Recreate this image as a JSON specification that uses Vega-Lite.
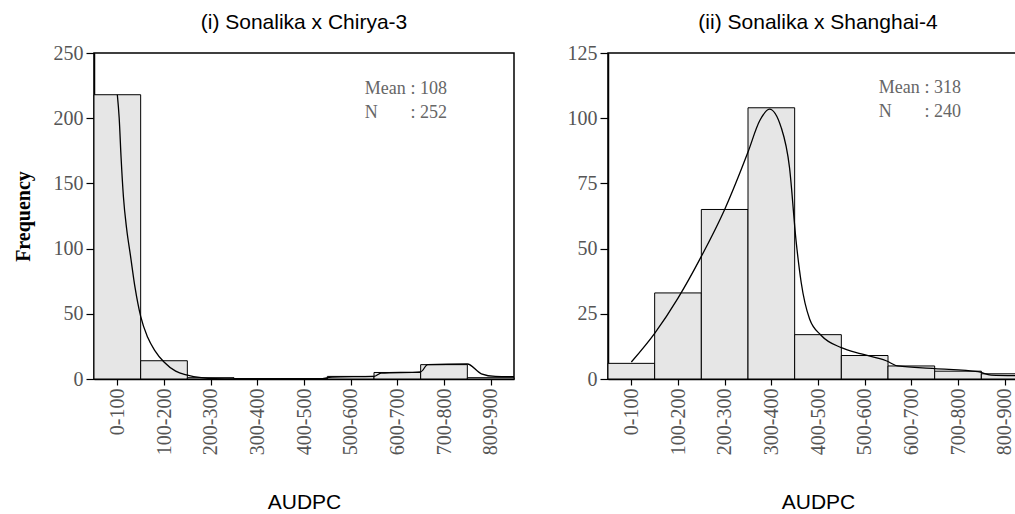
{
  "$schema": "https://vega.github.io/schema/vega-lite/v6.json",
  "background": "white",
  "padding": {"left": 12, "top": 11, "right": 0, "bottom": 0},
  "spacing": 48,
  "config": {
    "view": {"stroke": "#000", "strokeWidth": 1.5},
    "axis": {
      "grid": false,
      "domainColor": "#000",
      "domainWidth": 1.5,
      "tickColor": "#000",
      "tickWidth": 1.2,
      "labelFont": "Liberation Serif",
      "labelFontSize": 20,
      "labelColor": "#555",
      "titleFont": "Liberation Sans",
      "titleFontWeight": "normal",
      "titleFontSize": 21,
      "titleColor": "#000"
    },
    "title": {"font": "Liberation Sans", "fontSize": 21, "fontWeight": "normal", "color": "#000", "offset": 10}
  },
  "datasets": {
    "bins1": [
      {"bin": "0-100", "start": 0, "end": 100, "count": 218},
      {"bin": "100-200", "start": 100, "end": 200, "count": 14},
      {"bin": "200-300", "start": 200, "end": 300, "count": 1},
      {"bin": "300-400", "start": 300, "end": 400, "count": 0},
      {"bin": "400-500", "start": 400, "end": 500, "count": 0},
      {"bin": "500-600", "start": 500, "end": 600, "count": 2},
      {"bin": "600-700", "start": 600, "end": 700, "count": 5},
      {"bin": "700-800", "start": 700, "end": 800, "count": 11},
      {"bin": "800-900", "start": 800, "end": 900, "count": 1}
    ],
    "curve1": [
      {"x": 50, "y": 218}, {"x": 54, "y": 200}, {"x": 58, "y": 170}, {"x": 63, "y": 140},
      {"x": 70, "y": 115}, {"x": 78, "y": 95}, {"x": 88, "y": 70}, {"x": 100, "y": 48},
      {"x": 115, "y": 32}, {"x": 130, "y": 22}, {"x": 150, "y": 13}, {"x": 175, "y": 6},
      {"x": 200, "y": 3}, {"x": 230, "y": 1}, {"x": 260, "y": 0.2}, {"x": 300, "y": 0},
      {"x": 480, "y": 0}, {"x": 510, "y": 1.5}, {"x": 600, "y": 2}, {"x": 615, "y": 4.5},
      {"x": 700, "y": 5.5}, {"x": 715, "y": 11}, {"x": 800, "y": 11.5}, {"x": 830, "y": 4},
      {"x": 860, "y": 2}, {"x": 900, "y": 1.8}
    ],
    "stats1": [{"keys": "Mean\nN", "vals": ": 108\n: 252"}],
    "bins2": [
      {"bin": "0-100", "start": 0, "end": 100, "count": 6},
      {"bin": "100-200", "start": 100, "end": 200, "count": 33},
      {"bin": "200-300", "start": 200, "end": 300, "count": 65},
      {"bin": "300-400", "start": 300, "end": 400, "count": 104},
      {"bin": "400-500", "start": 400, "end": 500, "count": 17},
      {"bin": "500-600", "start": 500, "end": 600, "count": 9},
      {"bin": "600-700", "start": 600, "end": 700, "count": 5},
      {"bin": "700-800", "start": 700, "end": 800, "count": 3},
      {"bin": "800-900", "start": 800, "end": 900, "count": 2}
    ],
    "curve2": [
      {"x": 50, "y": 6.5}, {"x": 100, "y": 17.5}, {"x": 150, "y": 31}, {"x": 200, "y": 47},
      {"x": 250, "y": 65}, {"x": 300, "y": 87}, {"x": 325, "y": 99}, {"x": 346, "y": 103.5},
      {"x": 371, "y": 96.5}, {"x": 389, "y": 81}, {"x": 403, "y": 53}, {"x": 414, "y": 37},
      {"x": 432, "y": 23}, {"x": 457, "y": 16.7}, {"x": 500, "y": 12}, {"x": 543, "y": 9.6},
      {"x": 596, "y": 7}, {"x": 621, "y": 5}, {"x": 700, "y": 4}, {"x": 793, "y": 2.8},
      {"x": 821, "y": 1.5}, {"x": 900, "y": 1.2}
    ],
    "stats2": [{"keys": "Mean\nN", "vals": ": 318\n: 240"}]
  },
  "hconcat": [
    {
      "width": 420,
      "height": 326,
      "title": {"text": "(i) Sonalika x Chirya-3"},
      "layer": [
        {
          "data": {"name": "bins1"},
          "mark": {"type": "rect", "fill": "#e6e6e6", "stroke": "#000", "strokeWidth": 1},
          "encoding": {
            "x": {
              "field": "start", "type": "quantitative",
              "scale": {"domain": [0, 900], "nice": false, "zero": false},
              "axis": {
                "values": [50, 150, 250, 350, 450, 550, 650, 750, 850],
                "labelExpr": "floor(datum.value/100)*100 + '-' + (floor(datum.value/100)*100 + 100)",
                "labelAngle": -90, "tickSize": 6, "labelPadding": 3,
                "title": "AUDPC", "titleY": 123, "titleBaseline": "middle"
              }
            },
            "x2": {"field": "end"},
            "y": {
              "field": "count", "type": "quantitative",
              "scale": {"domain": [0, 250], "nice": false},
              "axis": {
                "values": [0, 50, 100, 150, 200, 250],
                "tickSize": 8, "labelPadding": 3,
                "title": "Frequency",
                "titleFont": "Liberation Serif", "titleFontWeight": "bold", "titleFontSize": 20,
                "titleAngle": -90, "titleX": -71, "titleY": 163,
                "titleBaseline": "middle", "titleAlign": "center"
              }
            }
          }
        },
        {
          "data": {"name": "curve1"},
          "mark": {"type": "line", "interpolate": "monotone", "color": "#000", "strokeWidth": 1.3},
          "encoding": {
            "x": {"field": "x", "type": "quantitative"},
            "y": {"field": "y", "type": "quantitative"}
          }
        },
        {
          "data": {"name": "stats1"},
          "mark": {"type": "text", "align": "left", "baseline": "alphabetic", "lineBreak": "\n", "lineHeight": 24, "font": "Liberation Serif", "fontSize": 18, "color": "#666"},
          "encoding": {
            "x": {"datum": 580, "type": "quantitative"},
            "y": {"datum": 218.5, "type": "quantitative"},
            "text": {"field": "keys"}
          }
        },
        {
          "data": {"name": "stats1"},
          "mark": {"type": "text", "align": "left", "baseline": "alphabetic", "lineBreak": "\n", "lineHeight": 24, "font": "Liberation Serif", "fontSize": 18, "color": "#666"},
          "encoding": {
            "x": {"datum": 678, "type": "quantitative"},
            "y": {"datum": 218.5, "type": "quantitative"},
            "text": {"field": "vals"}
          }
        }
      ]
    },
    {
      "width": 420,
      "height": 326,
      "title": {"text": "(ii) Sonalika x Shanghai-4"},
      "layer": [
        {
          "data": {"name": "bins2"},
          "mark": {"type": "rect", "fill": "#e6e6e6", "stroke": "#000", "strokeWidth": 1},
          "encoding": {
            "x": {
              "field": "start", "type": "quantitative",
              "scale": {"domain": [0, 900], "nice": false, "zero": false},
              "axis": {
                "values": [50, 150, 250, 350, 450, 550, 650, 750, 850],
                "labelExpr": "floor(datum.value/100)*100 + '-' + (floor(datum.value/100)*100 + 100)",
                "labelAngle": -90, "tickSize": 6, "labelPadding": 3,
                "title": "AUDPC", "titleY": 123, "titleBaseline": "middle"
              }
            },
            "x2": {"field": "end"},
            "y": {
              "field": "count", "type": "quantitative",
              "scale": {"domain": [0, 125], "nice": false},
              "axis": {
                "values": [0, 25, 50, 75, 100, 125],
                "tickSize": 8, "labelPadding": 3,
                "title": null
              }
            }
          }
        },
        {
          "data": {"name": "curve2"},
          "mark": {"type": "line", "interpolate": "monotone", "color": "#000", "strokeWidth": 1.3},
          "encoding": {
            "x": {"field": "x", "type": "quantitative"},
            "y": {"field": "y", "type": "quantitative"}
          }
        },
        {
          "data": {"name": "stats2"},
          "mark": {"type": "text", "align": "left", "baseline": "alphabetic", "lineBreak": "\n", "lineHeight": 24, "font": "Liberation Serif", "fontSize": 18, "color": "#666"},
          "encoding": {
            "x": {"datum": 580, "type": "quantitative"},
            "y": {"datum": 109.5, "type": "quantitative"},
            "text": {"field": "keys"}
          }
        },
        {
          "data": {"name": "stats2"},
          "mark": {"type": "text", "align": "left", "baseline": "alphabetic", "lineBreak": "\n", "lineHeight": 24, "font": "Liberation Serif", "fontSize": 18, "color": "#666"},
          "encoding": {
            "x": {"datum": 678, "type": "quantitative"},
            "y": {"datum": 109.5, "type": "quantitative"},
            "text": {"field": "vals"}
          }
        }
      ]
    }
  ]
}
